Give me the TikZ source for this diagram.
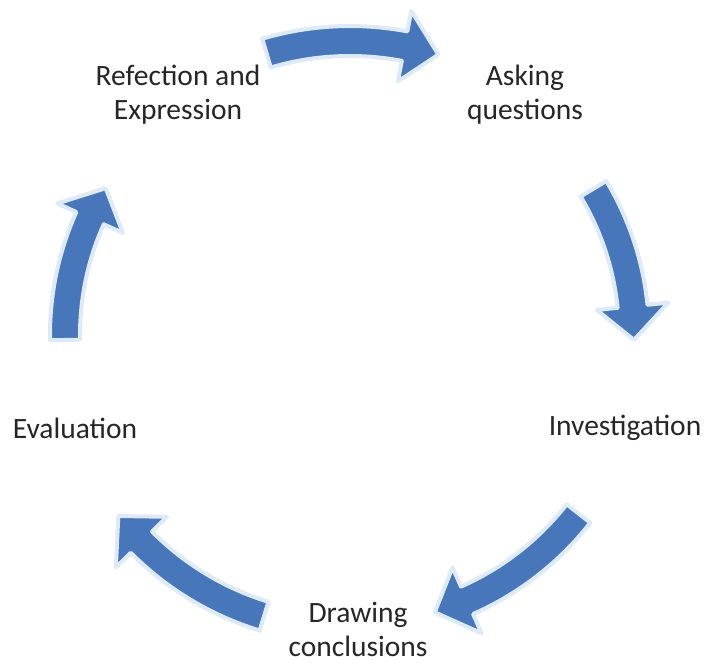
\documentclass[tikz,border=0pt]{standalone}
\usepackage{fontspec}
\setmainfont{Carlito}
\usepackage{xcolor}
\usepackage{tikz}
\usetikzlibrary{positioning}
\definecolor{cycleblue}{RGB}{72,118,186}
\definecolor{cycleglow}{RGB}{222,234,247}
\tikzset{
  cyclelabel/.style={
    align=center,
    text=black!85,
    inner sep=2pt,
    font=\fontsize{29.5}{34}\selectfont
  },
  cyclearrow/.style={
    fill=cycleblue,
    draw=cycleglow,
    line width=4pt,
    line join=round
  }
}
% curved block arrow round the hub: radius, tail angle, tip angle
\newcommand{\cyclearc}[3]{%
  \pgfmathsetmacro{\arcdir}{sign(#3-#2)}%
  \pgfmathsetmacro{\arcbase}{#3-6.8*\arcdir}%
  \pgfmathsetmacro{\arcout}{#1+15}%
  \pgfmathsetmacro{\arcin}{#1-15}%
  \pgfmathsetmacro{\headout}{#1+36}%
  \pgfmathsetmacro{\headin}{#1-36}%
  \draw[cyclearrow] (#2:\arcout) arc[start angle=#2, end angle=\arcbase, radius=\arcout]
    -- (\arcbase:\headout) -- (#3:#1) -- (\arcbase:\headin) -- (\arcbase:\arcin)
    arc[start angle=\arcbase, end angle=#2, radius=\arcin] -- cycle;
}

\begin{document}
\begin{tikzpicture}[x=1pt, y=1pt]
\useasboundingbox (0,0) rectangle (704,662);
\coordinate (hub) at (350,327);

\node[cyclelabel] (reflect) at (178,567) {Refection and\\Expression};
\node[cyclelabel] (ask) at (525,567) {Asking\\questions};
\node[cyclelabel] (invest) at (625,234) {Investigation};
\node[cyclelabel] (conclude) at (358,33) {Drawing\\conclusions};
\node[cyclelabel] (evaluate) at (75,234) {Evaluation};

\begin{scope}[shift={(hub)}]
\cyclearc{294}{106.5}{72.5}
\cyclearc{284}{31}{-1}
\cyclearc{290}{-38}{-73}
\cyclearc{294}{-107}{-142}
\cyclearc{285}{181}{149}
\end{scope}
\end{tikzpicture}
\end{document}
